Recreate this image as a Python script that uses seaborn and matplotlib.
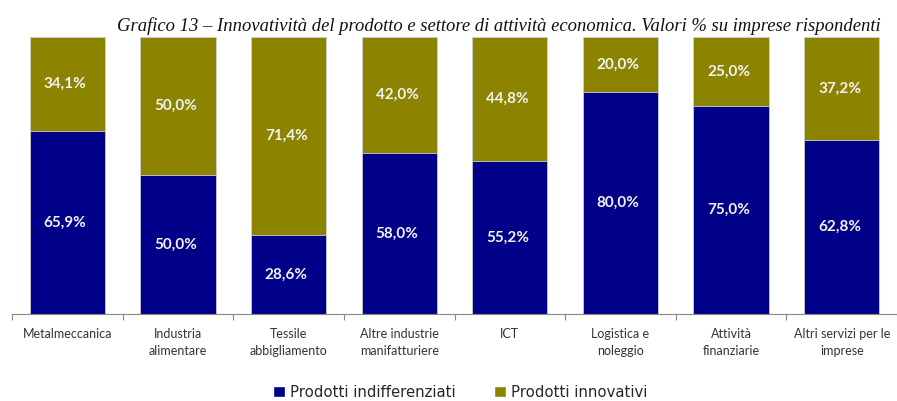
import matplotlib
matplotlib.use("Agg")
import matplotlib.pyplot as plt
from matplotlib.patches import Patch
import seaborn as sns
import pandas as pd
import numpy as np

# data
settori = ["Metalmeccanica", "Industria\nalimentare", "Tessile\nabbigliamento",
           "Altre industrie\nmanifatturiere", "ICT", "Logistica e\nnoleggio",
           "Attività\nfinanziarie", "Altri servizi per le\nimprese"]
indifferenziati = [65.9, 50.0, 28.6, 58.0, 55.2, 80.0, 75.0, 62.8]
innovativi = [34.1, 50.0, 71.4, 42.0, 44.8, 20.0, 25.0, 37.2]

BLUE = "#000088"
OLIVE = "#8c8400"

df = pd.DataFrame({"settore": settori,
                   "indiff": indifferenziati,
                   "innov": innovativi})
df["totale"] = df["indiff"] + df["innov"]

sns.set_style("white")
plt.rcParams["font.family"] = ["Lato", "DejaVu Sans"]

fig = plt.figure(figsize=(8.97, 4.01), dpi=100)
ax = fig.add_axes([12 / 897, 1 - 314 / 401, 885 / 897, 277 / 401])

# stacked bars: full height in olive, then the blue part over it
sns.barplot(data=df, x="settore", y="totale", color=OLIVE, width=0.68,
            edgecolor="#d0d0d0", linewidth=0.6, saturation=1, ax=ax)
sns.barplot(data=df, x="settore", y="indiff", color=BLUE, width=0.68,
            edgecolor="#d0d0d0", linewidth=0.6, saturation=1, ax=ax)

for i, row in df.iterrows():
    ax.text(i - 0.02, row["indiff"] / 2, f"{row['indiff']:.1f}%".replace(".", ","),
            ha="center", va="center", color="#f2f2f2", fontsize=11, fontweight="bold")
    ax.text(i - 0.02, row["indiff"] + row["innov"] / 2, f"{row['innov']:.1f}%".replace(".", ","),
            ha="center", va="center", color="#f2f2f2", fontsize=11, fontweight="bold")

ax.set_ylim(0, 100)
ax.set_xlim(-0.5, len(settori) - 0.5)
ax.set_yticks([])
ax.set_xlabel("")
ax.set_ylabel("")
for s in ["top", "right", "left"]:
    ax.spines[s].set_visible(False)
ax.spines["bottom"].set_color("#888888")
ax.spines["bottom"].set_linewidth(0.8)

# ticks between categories
ax.set_xticks(np.arange(len(settori)))
ax.set_xticklabels(settori, fontsize=9, color="#333333", linespacing=1.55)
ax.tick_params(axis="x", which="major", length=0, pad=10)
ax.set_xticks(np.arange(len(settori) + 1) - 0.5, minor=True)
ax.tick_params(axis="x", which="minor", bottom=True, length=4, color="#888888",
               width=0.8, direction="out")

ax.set_title("Grafico 13 – Innovatività del prodotto e settore di attività economica. "
             "Valori % su imprese rispondenti",
             fontsize=13.4, style="italic", family=["Liberation Serif", "DejaVu Serif"],
             x=0.55, y=1.0, pad=4, color="#111111")

handles = [Patch(facecolor=BLUE, label="Prodotti indifferenziati"),
           Patch(facecolor=OLIVE, label="Prodotti innovativi")]
fig.legend(handles=handles, loc="center", bbox_to_anchor=(0.513, 0.022), ncol=2,
           frameon=False, handlelength=0.8, handleheight=0.8,
           handletextpad=0.35, columnspacing=2.6,
           prop={"family": ["DejaVu Sans"], "size": 10.7})

fig.savefig("out.png", dpi=100)
